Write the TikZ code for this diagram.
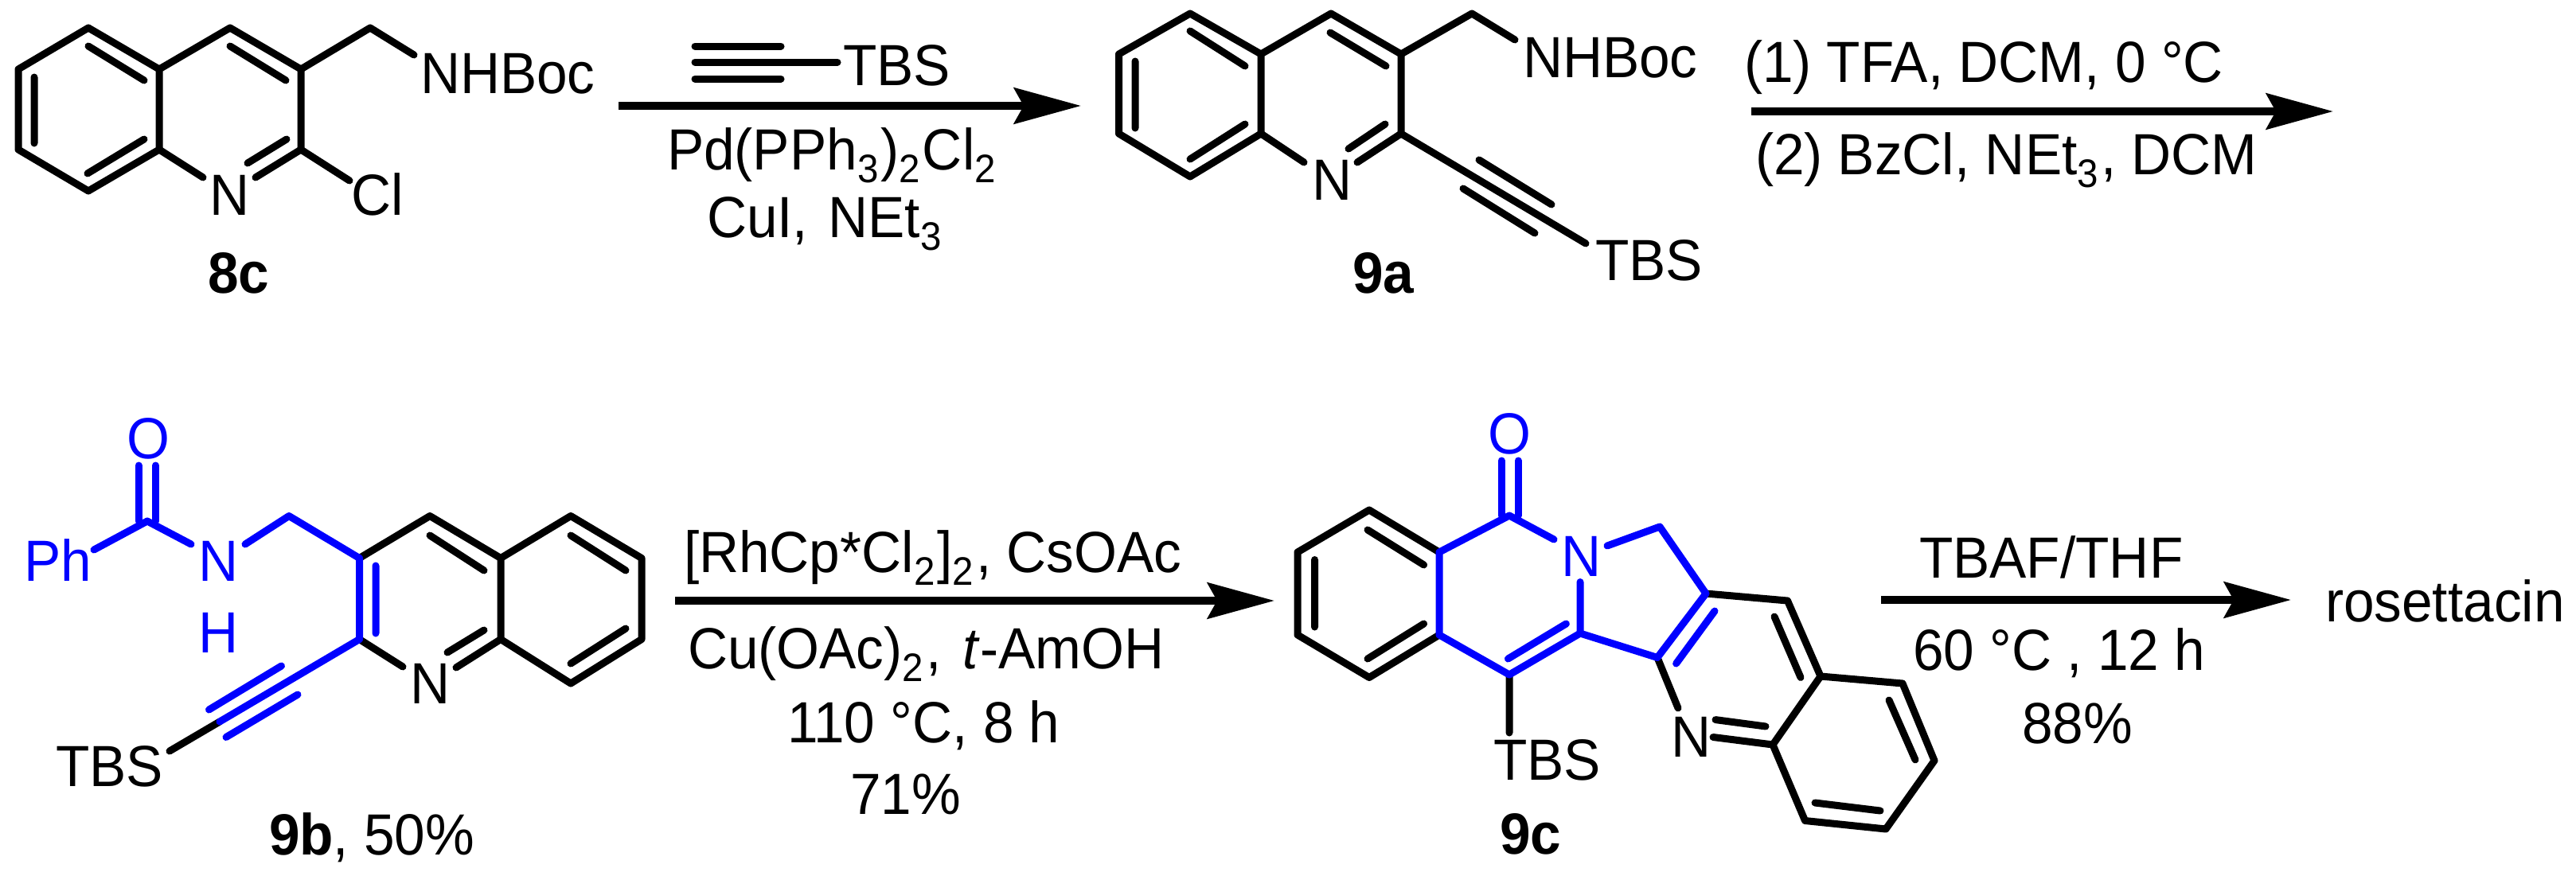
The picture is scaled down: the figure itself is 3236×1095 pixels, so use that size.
\documentclass[tikz,border=0pt]{standalone}
\usepackage{fontspec}
\setmainfont[FakeStretch=0.95]{Liberation Sans}
\usetikzlibrary{arrows.meta}
\definecolor{chemblue}{RGB}{0,0,255}
\newcommand{\lowsub}[1]{\raisebox{-16pt}{\fontsize{50}{52}\selectfont #1}\kern 3pt\relax}
\tikzset{
  lbl/.style={anchor=base west,inner sep=0pt,outer sep=0pt,font=\fontsize{73}{78}\selectfont},
  bluelbl/.style={lbl,text=chemblue},
  boldlbl/.style={lbl,font=\fontsize{73}{78}\selectfont\bfseries},
  bond/.style={line width=9pt,line cap=round,line join=round,black},
  bluebond/.style={bond,draw=chemblue},
  rxn/.style={line width=10pt,-{Stealth[length=84pt,width=45pt,inset=12pt]}},
}
\begin{document}
\begin{tikzpicture}[x=1pt,y=-1pt]
\useasboundingbox (0,0) rectangle (3236,1095);
% ---------- 8c ----------
\foreach \n/\x/\y in {a1/111/35,a2/200/87,a3/200/188,a4/111/240,a5/23/188,a6/23/87,a7/289/35,a8/378/87,a9/378/188,a10/465/35,
  a11/520/69,a12/255/223,a13/321/223,a14/439/227,a15/43/97,a16/43/180,a17/111/58,a18/181/101,a19/181/175,a20/110/218,
  a21/289/58,a22/359/101,a23/311/205,a24/360/175}
  {\coordinate (\n) at (\x,\y);}
\draw[bond] (a2)--(a1)--(a6)--(a5)--(a4)--(a3)--(a2)--(a7)--(a8)--(a9)--(a14);
\draw[bond] (a8)--(a10)--(a11);
\draw[bond] (a3)--(a12) (a9)--(a13) (a15)--(a16) (a17)--(a18) (a19)--(a20) (a21)--(a22) (a23)--(a24);
\node[lbl] (nhboc1) at (528,117) {NHBoc};
\node[lbl] (n8c) at (263,270) {N};
\node[lbl] (cl8c) at (441,270) {Cl};
\node[boldlbl] (l8c) at (261,368) {8c};
% ---------- arrow 1 ----------
\coordinate (r1a) at (777,133); \coordinate (r1b) at (1358,133);
\draw[rxn] (r1a)--(r1b);
\coordinate (t1) at (873,58); \coordinate (t2) at (981,58);
\coordinate (t3) at (873,78); \coordinate (t4) at (1052,78);
\coordinate (t5) at (873,99); \coordinate (t6) at (981,99);
\draw[bond,line width=9pt] (t1)--(t2) (t3)--(t4) (t5)--(t6);
\node[lbl] (tbs0) at (1059,107) {TBS};
\node[lbl] (pd) at (838,213) {Pd(PPh\lowsub{3})\lowsub{2}Cl\lowsub{2}};
\node[lbl] (cui) at (888,298) {CuI, \kern 6pt NEt\lowsub{3}};
% ---------- 9a ----------
\foreach \n/\x/\y in {b1/1495/17,b2/1584/68,b3/1584/168,b4/1495/222,b5/1405.5/168,b6/1405.5/68,b7/1672/17,b8/1760/68,b9/1760/168,
  b10/1849/17,b11/1903/50,b12/1638/204,b13/1705/204,b14/1992/306,b15/1858/201,b16/1949/257,b17/1838/237,b18/1928/293,
  b19/1426/77,b20/1426/161,b21/1495/39,b22/1564/83,b23/1564/156,b24/1495/200,b25/1671/41,b26/1741/83,b27/1740/156,b28/1694/187}
  {\coordinate (\n) at (\x,\y);}
\draw[bond] (b2)--(b1)--(b6)--(b5)--(b4)--(b3)--(b2)--(b7)--(b8)--(b9)--(b14);
\draw[bond] (b8)--(b10)--(b11);
\draw[bond] (b3)--(b12) (b9)--(b13) (b15)--(b16) (b17)--(b18) (b19)--(b20) (b21)--(b22) (b23)--(b24) (b25)--(b26) (b27)--(b28);
\node[lbl] (nhboc2) at (1913,97) {NHBoc};
\node[lbl] (n9a) at (1648,251) {N};
\node[lbl] (tbs9a) at (2004,352) {TBS};
\node[boldlbl] (l9a) at (1699,368) {9a};
% ---------- arrow 2 ----------
\coordinate (r2a) at (2200,140); \coordinate (r2b) at (2931,140);
\draw[rxn] (r2a)--(r2b);
\node[lbl] (c21) at (2191,103) {(1) TFA, DCM, 0 °C};
\node[lbl] (c22) at (2205,219) {(2) BzCl, NEt\lowsub{3}, DCM};
% ---------- 9b ----------
\foreach \n/\x/\y in {c1/185/655,c2/174/585,c3/195.5/585,c4/174/655,c5/195.5/655,c6/118/691,c7/240/684,c8/308/684,c9/363/648.5,
  c10/451.5/701.5,c11/451.5/803.5,c12/472/711,c13/472/796,c14/540/648.5,c15/629/701.5,c16/629/803.5,c17/717/648.5,c18/806/701.5,
  c19/806/803.5,c20/717/859,c21/506/838,c22/573/839,c23/562/820,c24/608/792,c25/276/907,c26/213/944,c27/353.5/837,c28/262.5/892,
  c29/374/873,c30/284/926.5,c31/540/673,c32/608/717,c33/717/673,c34/786/717,c35/786/790,c36/717/834}
  {\coordinate (\n) at (\x,\y);}
\draw[bond] (c10)--(c14)--(c15)--(c17)--(c18)--(c19)--(c20)--(c16)--(c15);
\draw[bond] (c11)--(c21) (c16)--(c22) (c23)--(c24) (c31)--(c32) (c33)--(c34) (c35)--(c36);
\draw[bond] (c25)--(c26);
\draw[bluebond] (c2)--(c4) (c3)--(c5);
\draw[bluebond] (c6)--(c1)--(c7) (c8)--(c9)--(c10)--(c11)--(c25);
\draw[bluebond] (c12)--(c13) (c27)--(c28) (c29)--(c30);
\node[bluelbl] (o9b) at (159,576) {O};
\node[bluelbl] (ph9b) at (30,730) {Ph};
\node[bluelbl] (n9b) at (249,730) {N};
\node[bluelbl] (h9b) at (249,820) {H};
\node[lbl] (n9bq) at (515,884) {N};
\node[lbl] (tbs9b) at (70,988) {TBS};
\node[lbl] (l9b) at (338,1074) {\bfseries 9b\mdseries, 50\%};
% ---------- arrow 3 ----------
\coordinate (r3a) at (848,755); \coordinate (r3b) at (1601,755);
\draw[rxn] (r3a)--(r3b);
\node[lbl] (c31t) at (859,719) {[RhCp*Cl\lowsub{2}]\lowsub{2}, CsOAc};
\node[lbl] (c32t) at (864,840) {Cu(OAc)\lowsub{2}, \kern 8pt \textit{t}-AmOH};
\node[lbl] (c33t) at (989,933) {110 °C, 8 h};
\node[lbl] (c34t) at (1068,1023) {71\%};
% ---------- 9c ----------
\foreach \n/\x/\y in {d1/1630/694,d2/1720/641,d3/1808/694,d4/1808/798,d5/1720/851.5,d6/1630/798,d7/1651.5/703.5,d8/1651.5/788,
  d9/1718/666,d10/1788.6/710,d11/1788.6/784,d12/1718/828,d13/1896/648,d14/1886/579,d15/1907/579,d16/1886/648,d17/1907/648,
  d18/1952/678,d19/2019/686,d20/2085/662,d21/2143/746,d22/2245.5/755,d23/2287/850,d24/2390/859,d25/2430/956,d26/2369/1042,
  d27/2267.5/1031.5,d28/2227/936,d29/2082/826.5,d30/2108/890,d31/1985/731.5,d32/1985/796,d33/1896/848,d34/1894.4/828,
  d35/1967.4/784,d36/2105.6/834,d37/2154/768,d38/2152/926.5,d39/2155/904.6,d40/2218/913,d41/2229/775,d42/2262/851.5,
  d43/2373/880,d44/2406/955,d45/2280/1009,d46/2362/1019,d47/1896/921}
  {\coordinate (\n) at (\x,\y);}
\draw[bond] (d3)--(d2)--(d1)--(d6)--(d5)--(d4);
\draw[bond] (d7)--(d8) (d9)--(d10) (d11)--(d12);
\draw[bond] (d21)--(d22)--(d23)--(d24)--(d25)--(d26)--(d27)--(d28)--(d23);
\draw[bond] (d28)--(d38) (d39)--(d40) (d41)--(d42) (d43)--(d44) (d45)--(d46);
\draw[bond] (d29)--(d30) (d33)--(d47);
\draw[bluebond] (d14)--(d16) (d15)--(d17);
\draw[bluebond] (d18)--(d13)--(d3)--(d4)--(d33)--(d32)--(d29)--(d21)--(d20)--(d19);
\draw[bluebond] (d32)--(d31) (d34)--(d35) (d36)--(d37);
\node[bluelbl] (o9c) at (1869.5,570) {O};
\node[bluelbl] (n9c) at (1961,724) {N};
\node[lbl] (n9cq) at (2099.5,951.5) {N};
\node[lbl] (tbs9c) at (1876,980) {TBS};
\node[boldlbl] (l9c) at (1884,1073) {9c};
% ---------- arrow 4 ----------
\coordinate (r4a) at (2363,754); \coordinate (r4b) at (2878,754);
\draw[rxn] (r4a)--(r4b);
\node[lbl] (c41) at (2411,726) {TBAF/THF};
\node[lbl] (c42) at (2403,842) {60 °C , 12 h};
\node[lbl] (c43) at (2540,934) {88\%};
\node[lbl] (rose) at (2921,781) {rosettacin};
\end{tikzpicture}
\end{document}
